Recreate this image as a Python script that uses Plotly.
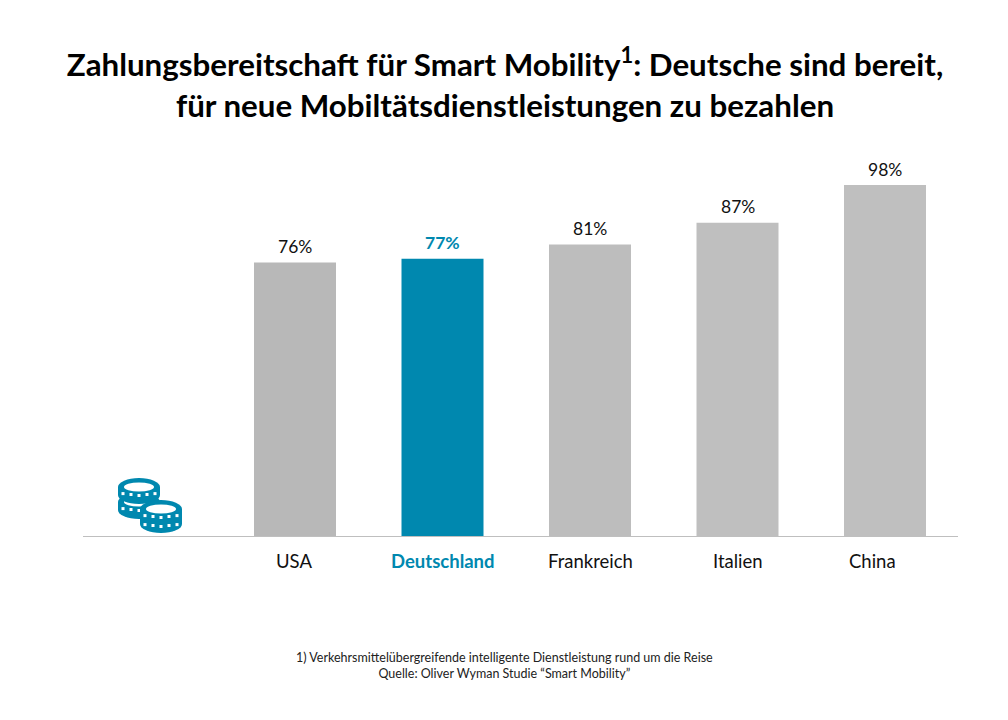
import base64
import plotly.graph_objects as go

categories = ["USA", "Deutschland", "Frankreich", "Italien", "China"]
values = [76, 77, 81, 87, 97.5]
labels = ["76%", "77%", "81%", "87%", "98%"]
title = "Zahlungsbereitschaft für Smart Mobility<sup>1</sup>: Deutsche sind bereit,<br>für neue Mobiltätsdienstleistungen zu bezahlen"
footnote = "1) Verkehrsmittelübergreifende intelligente Dienstleistung rund um die Reise<br>Quelle: Oliver Wyman Studie “Smart Mobility”"

BLUE = "#0088AF"
GREY = ["#B8B8B8", BLUE, "#BDBDBD", "#BFBFBF", "#BFBFBF"]
FONT = "Lato, Carlito, sans-serif"
label_shift = [-1, 0, 0, 0, -13]

W, H = 1008, 720
L, R, T, B = 83, 958, 141, 536
unit = 147.5
x0 = -(295 - L) / unit
x1 = (R - 295) / unit

coin = """
<g>
<ellipse cx='{c}' cy='{y3}' rx='21' ry='9' fill='#0088AF'/>
<rect x='{l}' y='{y1}' width='42' height='{h}' fill='#0088AF'/>
<ellipse cx='{c}' cy='{y1}' rx='21' ry='9' fill='#0088AF'/>
<ellipse cx='{c}' cy='{y1}' rx='15' ry='4.5' fill='white'/>
{dots}
</g>"""

def dots(c, y):
    return "".join(
        f"<rect x='{c + dx - 1.5}' y='{y + abs(dx) * -0.12 + 9:.1f}' width='3' height='3' fill='white'/>"
        for dx in (-16, -8, 0, 8, 16)
    )

svg = "<svg xmlns='http://www.w3.org/2000/svg' width='68' height='58' viewBox='0 0 68 58'>"
svg += coin.format(c=22, y1=25, y3=33, l=1, h=8, dots=dots(22, 23))
svg += coin.format(c=22, y1=10, y3=18, l=1, h=8, dots=dots(22, 8))
svg += coin.format(c=44, y1=32, y3=47, l=23, h=15, dots=dots(44, 30) + dots(44, 39))
svg += "</svg>"
icon = "data:image/svg+xml;base64," + base64.b64encode(svg.encode()).decode()

fig = go.Figure(go.Bar(
    x=list(range(len(categories))),
    y=values,
    width=82 / unit,
    marker=dict(color=GREY, line_width=0),
    hoverinfo="skip",
))

annotations = [
    dict(
        x=i, y=0, xref="x", yref="y", yanchor="top", xanchor="center",
        xshift=label_shift[i], yshift=-12, showarrow=False,
        text=f"<b>{c}</b>" if c == "Deutschland" else c,
        font=dict(family=FONT, size=18.5, color=BLUE if c == "Deutschland" else "#111111"),
    )
    for i, c in enumerate(categories)
]
annotations += [
    dict(
        x=i, y=values[i], xref="x", yref="y", yanchor="middle", xanchor="center",
        yshift=16, showarrow=False,
        text=f"<b>{t}</b>" if categories[i] == "Deutschland" else t,
        font=dict(family=FONT, size=17.5, color=BLUE if categories[i] == "Deutschland" else "#111111"),
    )
    for i, t in enumerate(labels)
]
annotations.append(dict(
    x=(504 - L) / (R - L), y=(B - 665) / (B - T), xref="paper", yref="paper",
    xanchor="center", yanchor="middle",
    showarrow=False, text=footnote, font=dict(family=FONT, size=12.5, color="#222222"),
))

fig.update_layout(
    width=W, height=H, autosize=False,
    paper_bgcolor="white", plot_bgcolor="white",
    margin=dict(l=L, r=W - R, t=T, b=H - B, pad=0),
    showlegend=False,
    title=dict(
        text=title, x=505 / W, xanchor="center", y=1 - 76 / H, yanchor="middle",
        font=dict(family=FONT, size=31.3, color="black", weight="bold"),
    ),
    xaxis=dict(range=[x0, x1], showgrid=False, zeroline=False, showticklabels=False, ticks="",
               showline=False),
    yaxis=dict(range=[0, (B - T) / 3.6], showgrid=False, showticklabels=False, ticks="",
               zeroline=True, zerolinecolor="#BFBFBF", zerolinewidth=1, showline=False),
    annotations=annotations,
    images=[dict(source=icon, xref="paper", yref="paper",
                 x=(117 - L) / (R - L), y=(B - 477) / (B - T),
                 sizex=68 / (R - L), sizey=58 / (B - T),
                 xanchor="left", yanchor="top", sizing="stretch", layer="above")],
)

fig.write_html("out.html", config=dict(displayModeBar=False),
               post_script="document.body.style.margin='0';document.documentElement.style.overflow='hidden';")
